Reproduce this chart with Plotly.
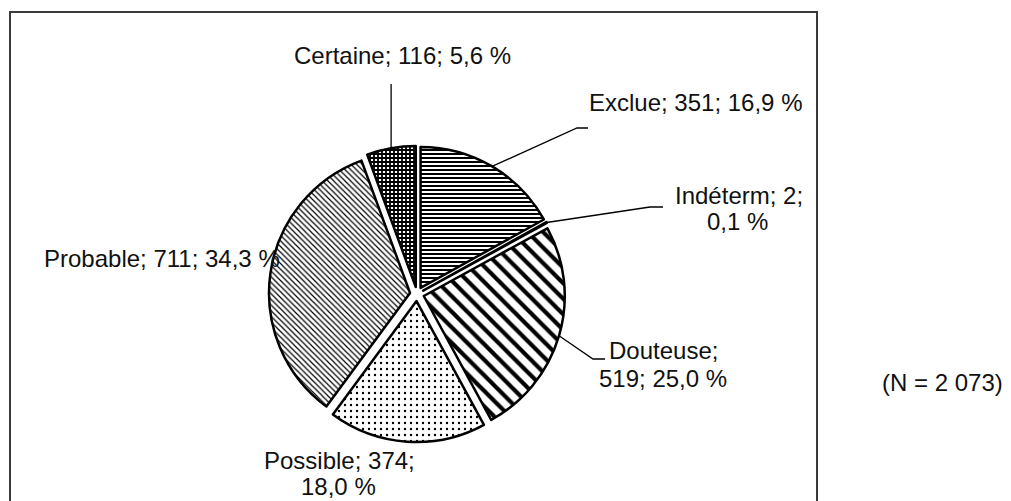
import math
import plotly.graph_objects as go

# ---------------- data ----------------
categories = ["Exclue", "Indéterm", "Douteuse", "Possible", "Probable", "Certaine"]
counts = [351, 2, 519, 374, 711, 116]
percent_labels = ["16,9 %", "0,1 %", "25,0 %", "18,0 %", "34,3 %", "5,6 %"]
total_label = "(N = 2 073)"

# how many label parts go on the first line (None = single line)
label_breaks = [None, 2, 1, 2, None, None]

# ---------------- styling / layout ----------------
W, H = 1011, 501
CX, CY, R = 417, 294, 141          # pie centre and radius in px
PULL = 0.05
FONT = "Liberation Sans, Arial, Helvetica, sans-serif"
FS = 24

patterns = [
    dict(shape="-", size=4, solidity=0.5),
    dict(shape="/", size=3, solidity=0.8),
    dict(shape="\\", size=11, solidity=0.38),
    dict(shape=".", size=6, solidity=0.12),
    dict(shape="\\", size=4, solidity=0.3),
    dict(shape="+", size=4, solidity=0.7),
]

# label text centres (px) per line, and leader elbows
label_pos = [
    [(695, 102)],
    [(739, 195), (737, 222)],
    [(663, 350), (663, 378)],
    [(339, 460), (338, 486)],
    [(162, 258)],
    [(402, 55)],
]
leaders = [
    [(577, 128), (588, 128)],
    [(650, 207), (663, 207)],
    [(593, 359), (605, 359)],
    None,
    None,
    "vertical:84",
]


def px(x):
    return x / W


def py(y):
    return 1 - y / H


half = R * (1 + PULL)
domain = dict(x=[px(CX - half), px(CX + half)], y=[py(CY + half), py(CY - half)])

fig = go.Figure(
    go.Pie(
        labels=categories,
        values=counts,
        sort=False,
        direction="clockwise",
        rotation=0,
        pull=[PULL] * len(counts),
        textinfo="none",
        hoverinfo="label+value+percent",
        domain=domain,
        marker=dict(
            colors=["white"] * len(counts),
            line=dict(color="black", width=2.5),
            pattern=dict(
                shape=[p["shape"] for p in patterns],
                size=[p["size"] for p in patterns],
                solidity=[p["solidity"] for p in patterns],
                fgcolor="black",
                bgcolor="white",
                fillmode="replace",
            ),
        ),
        showlegend=False,
    )
)

annotations = []
shapes = []

total = sum(counts)
cum = 0
for i, (cat, cnt, pct) in enumerate(zip(categories, counts, percent_labels)):
    frac = cnt / total
    theta = 2 * math.pi * (cum + frac / 2)
    cum += frac
    # edge point of pulled slice along its bisector
    ex = CX + half * math.sin(theta)
    ey = CY - half * math.cos(theta)

    parts = [f"{cat};", f"{cnt};", pct]
    b = label_breaks[i]
    if b is None:
        lines = [" ".join(parts)]
    else:
        lines = [" ".join(parts[:b]), " ".join(parts[b:])]
    for line, (lx, ly) in zip(lines, label_pos[i]):
        annotations.append(
            dict(
                x=px(lx), y=py(ly), xref="paper", yref="paper",
                text=line, showarrow=False, xanchor="center", yanchor="middle",
                font=dict(family=FONT, size=FS, color="#111111"),
            )
        )

    ld = leaders[i]
    if ld is None:
        continue
    if isinstance(ld, str):
        top = float(ld.split(":")[1])
        pts = [(ex, ey), (ex, top)]
    else:
        pts = [(ex, ey)] + ld
    path = "M " + " L ".join(f"{px(x)},{py(y)}" for x, y in pts)
    shapes.append(
        dict(type="path", path=path, xref="paper", yref="paper",
             line=dict(color="black", width=1.3))
    )

# chart frame (bottom edge falls outside the picture)
shapes.append(
    dict(type="rect", xref="paper", yref="paper",
         x0=px(10), x1=px(817), y0=py(515), y1=py(12),
         line=dict(color="#3a3a3a", width=2), fillcolor="rgba(0,0,0,0)")
)

annotations.append(
    dict(x=px(942), y=py(382), xref="paper", yref="paper", text=total_label,
         showarrow=False, xanchor="center", yanchor="middle",
         font=dict(family=FONT, size=FS, color="#111111"))
)

fig.update_layout(
    width=W, height=H,
    margin=dict(l=0, r=0, t=0, b=0),
    paper_bgcolor="white", plot_bgcolor="white",
    shapes=shapes, annotations=annotations,
)

fig.write_html(
    "out.html",
    config={"displayModeBar": False},
    post_script="document.body.style.margin='0';document.body.style.overflow='hidden';",
)
